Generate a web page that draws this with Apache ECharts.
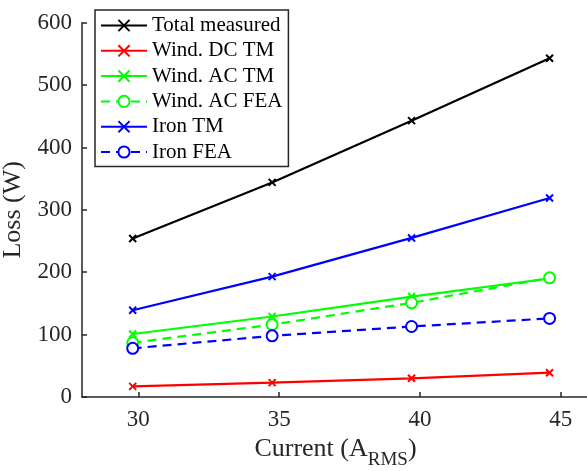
<!DOCTYPE html>
<html>
<head>
<meta charset="utf-8">
<script src="https://cdn.jsdelivr.net/npm/echarts@6/dist/echarts.min.js"></script>
<style>
  html, body { margin: 0; padding: 0; background: #fff; }
  #chart { width: 587px; height: 471px; }
</style>
</head>
<body>
<div id="chart"></div>
<script>
// measured currents (A RMS)
const currents = [29.8, 34.75, 39.7, 44.6]
const xTicks = [30, 35, 40, 45]

// losses (W)
const totalMeasured = [254, 344, 443, 543]
const windDcTm = [17, 23, 30, 39]
const windAcTm = [101, 129, 161, 190]
const windAcFea = [87, 116, 151, 191]
const ironTm = [139, 193, 255, 319]
const ironFea = [78, 98, 113, 126]

const FONT = 'Liberation Serif, Times New Roman, serif'
const AXIS_COLOR = '#262626'
const CROSS = 'path://M0,0L10,10M10,0L0,10'

const pair = (ys) => currents.map((x, i) => [x, ys[i]])

function crossSeries(name, ys, color) {
  return {
    name,
    type: 'line',
    data: pair(ys),
    symbol: CROSS,
    symbolSize: 7,
    lineStyle: { color, width: 2.2 },
    itemStyle: { color, borderColor: color, borderWidth: 2 },
    emphasis: { disabled: true },
  }
}

function circleSeries(name, ys, color) {
  return {
    name,
    type: 'line',
    data: pair(ys),
    symbol: 'emptyCircle',
    symbolSize: 11,
    lineStyle: { color, width: 2.2, type: [9, 6] },
    itemStyle: { color, borderColor: color, borderWidth: 2.2 },
    emphasis: { disabled: true },
  }
}

const chart = echarts.init(document.getElementById('chart'))
chart.setOption({
  animation: false,
  textStyle: { fontFamily: FONT },
  grid: { left: 82, right: -2, top: 22.7, bottom: 74, containLabel: false, outerBoundsMode: 'none' },
  legend: {
    orient: 'vertical',
    left: 95,
    top: 10,
    padding: [5, 6, 4, 5],
    itemWidth: 46,
    itemHeight: 14,
    itemGap: 4.3,
    backgroundColor: '#fff',
    borderColor: AXIS_COLOR,
    borderWidth: 1.5,
    textStyle: { fontFamily: FONT, fontSize: 21, color: '#000', lineHeight: 20 },
  },
  xAxis: {
    type: 'value',
    min: 28,
    max: 46,
    name: '{a|Current (A}{s|RMS}{a|)}',
    nameLocation: 'middle',
    nameGap: 35,
    nameTextStyle: {
      rich: {
        a: { fontFamily: FONT, fontSize: 26, color: AXIS_COLOR, verticalAlign: 'top', lineHeight: 28 },
        s: { fontFamily: FONT, fontSize: 19, color: AXIS_COLOR, verticalAlign: 'top', padding: [15, 0, 0, 0], lineHeight: 20 },
      },
    },
    axisLine: { show: true, lineStyle: { color: AXIS_COLOR, width: 1.5 } },
    axisTick: { show: true, inside: true, length: 5, customValues: xTicks, lineStyle: { color: AXIS_COLOR, width: 1.5 } },
    axisLabel: { customValues: xTicks, fontFamily: FONT, fontSize: 23, color: AXIS_COLOR, margin: 11 },
    splitLine: { show: false },
  },
  yAxis: {
    type: 'value',
    min: 0,
    max: 600,
    interval: 100,
    name: 'Loss (W)',
    nameLocation: 'middle',
    nameGap: 49,
    nameTextStyle: { fontFamily: FONT, fontSize: 26, color: AXIS_COLOR },
    axisLine: { show: true, lineStyle: { color: AXIS_COLOR, width: 1.5 } },
    axisTick: { show: true, inside: true, length: 5, lineStyle: { color: AXIS_COLOR, width: 1.5 } },
    axisLabel: { fontFamily: FONT, fontSize: 23, color: AXIS_COLOR, margin: 10 },
    splitLine: { show: false },
  },
  series: [
    crossSeries('Total measured', totalMeasured, '#000000'),
    crossSeries('Wind. DC TM', windDcTm, '#ff0000'),
    crossSeries('Wind. AC TM', windAcTm, '#00ff00'),
    circleSeries('Wind. AC FEA', windAcFea, '#00ff00'),
    crossSeries('Iron TM', ironTm, '#0000ff'),
    circleSeries('Iron FEA', ironFea, '#0000ff'),
  ],
})
</script>
</body>
</html>
